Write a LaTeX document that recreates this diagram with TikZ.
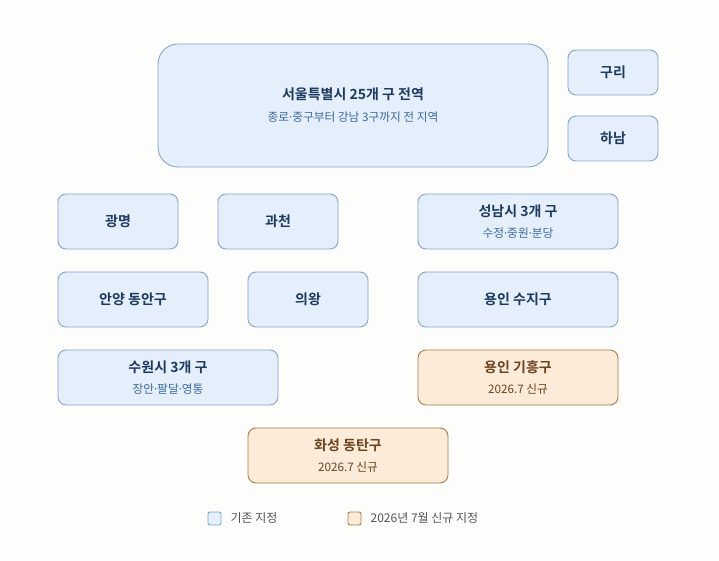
\documentclass[tikz,border=0pt]{standalone}
\usepackage{fontspec}
\setmainfont{Noto Sans CJK KR}[BoldFont={Noto Sans CJK KR Bold}]
\newfontfamily\dotfont{Noto Sans}
\usetikzlibrary{positioning}
\definecolor{bgpaper}{HTML}{FDFDFB}
\definecolor{oldfill}{HTML}{E4EFFB}
\definecolor{olddraw}{HTML}{86A5C8}
\definecolor{oldtext}{HTML}{1E3A5F}
\definecolor{oldsub}{HTML}{3D6A9C}
\definecolor{newfill}{HTML}{FCEBD8}
\definecolor{newdraw}{HTML}{A97C4C}
\definecolor{newtext}{HTML}{6A4320}
\definecolor{legtext}{HTML}{555555}
\newcommand{\areatitle}[1]{{\fontsize{14}{16}\selectfont\bfseries #1}}
\newcommand{\areasub}[1]{{\fontsize{11.7}{13}\selectfont #1}}
\newcommand{\sep}{{\dotfont ·}}

\begin{document}
\begin{tikzpicture}[x=1pt,y=-1pt,
        oldarea/.style={draw=olddraw, fill=oldfill, text=oldtext, rounded corners=8pt,
          line width=0.9pt, align=center, inner sep=0pt},
        newarea/.style={oldarea, draw=newdraw, fill=newfill, text=newtext},
        keybox/.style={draw=#1draw, fill=#1fill, rounded corners=2pt, line width=0.9pt,
          minimum size=13pt, inner sep=0pt},
        keytext/.style={text=legtext, font=\fontsize{12}{14}\selectfont, inner sep=0pt}]
    \fill[bgpaper] (0,0) rectangle (719,561);
    \useasboundingbox (0,0) rectangle (719,561);
    % Seoul and the eastern neighbours
    \node[oldarea, rounded corners=20pt, minimum width=390pt, minimum height=123pt] (seoul) at (353,105.5)
      {\areatitle{서울특별시 25개 구 전역}\\[10pt]\color{oldsub}\areasub{종로\sep 중구부터 강남 3구까지 전 지역}};
    \node[oldarea, minimum width=90pt, minimum height=45pt] (guri) at (613,72.5) {\areatitle{구리}};
    \node[oldarea, minimum width=90pt, minimum height=45pt] (hanam) at (613,138.5) {\areatitle{하남}};
    % Gyeonggi cities
    \node[oldarea, minimum width=120pt, minimum height=55pt] (gwangmyeong) at (118,221.5) {\areatitle{광명}};
    \node[oldarea, minimum width=120pt, minimum height=55pt] (gwacheon) at (278,221.5) {\areatitle{과천}};
    \node[oldarea, minimum width=200pt, minimum height=55pt] (seongnam) at (518,221.5)
      {\areatitle{성남시 3개 구}\\[9pt]\color{oldsub}\areasub{수정\sep 중원\sep 분당}};
    \node[oldarea, minimum width=150pt, minimum height=55pt] (anyang) at (133,299.5) {\areatitle{안양 동안구}};
    \node[oldarea, minimum width=120pt, minimum height=55pt] (uiwang) at (308,299.5) {\areatitle{의왕}};
    \node[oldarea, minimum width=200pt, minimum height=55pt] (suji) at (518,299.5) {\areatitle{용인 수지구}};
    \node[oldarea, minimum width=220pt, minimum height=55pt] (suwon) at (168,377.5)
      {\areatitle{수원시 3개 구}\\[9pt]\color{oldsub}\areasub{장안\sep 팔달\sep 영통}};
    % new in 2026
    \node[newarea, minimum width=200pt, minimum height=55pt] (giheung) at (518,377.5)
      {\areatitle{용인 기흥구}\\[9pt]\areasub{2026.7 신규}};
    \node[newarea, minimum width=200pt, minimum height=55pt] (dongtan) at (348,455.5)
      {\areatitle{화성 동탄구}\\[9pt]\areasub{2026.7 신규}};
    % legend
    \node[keybox=old] (keyold) at (214.5,518.5) {};
    \node[keytext, right=9pt of keyold] (keyoldtext) {기존 지정};
    \node[keybox=new] (keynew) at (354.5,518.5) {};
    \node[keytext, right=9pt of keynew] (keynewtext) {2026년 7월 신규 지정};
\end{tikzpicture}
\end{document}
